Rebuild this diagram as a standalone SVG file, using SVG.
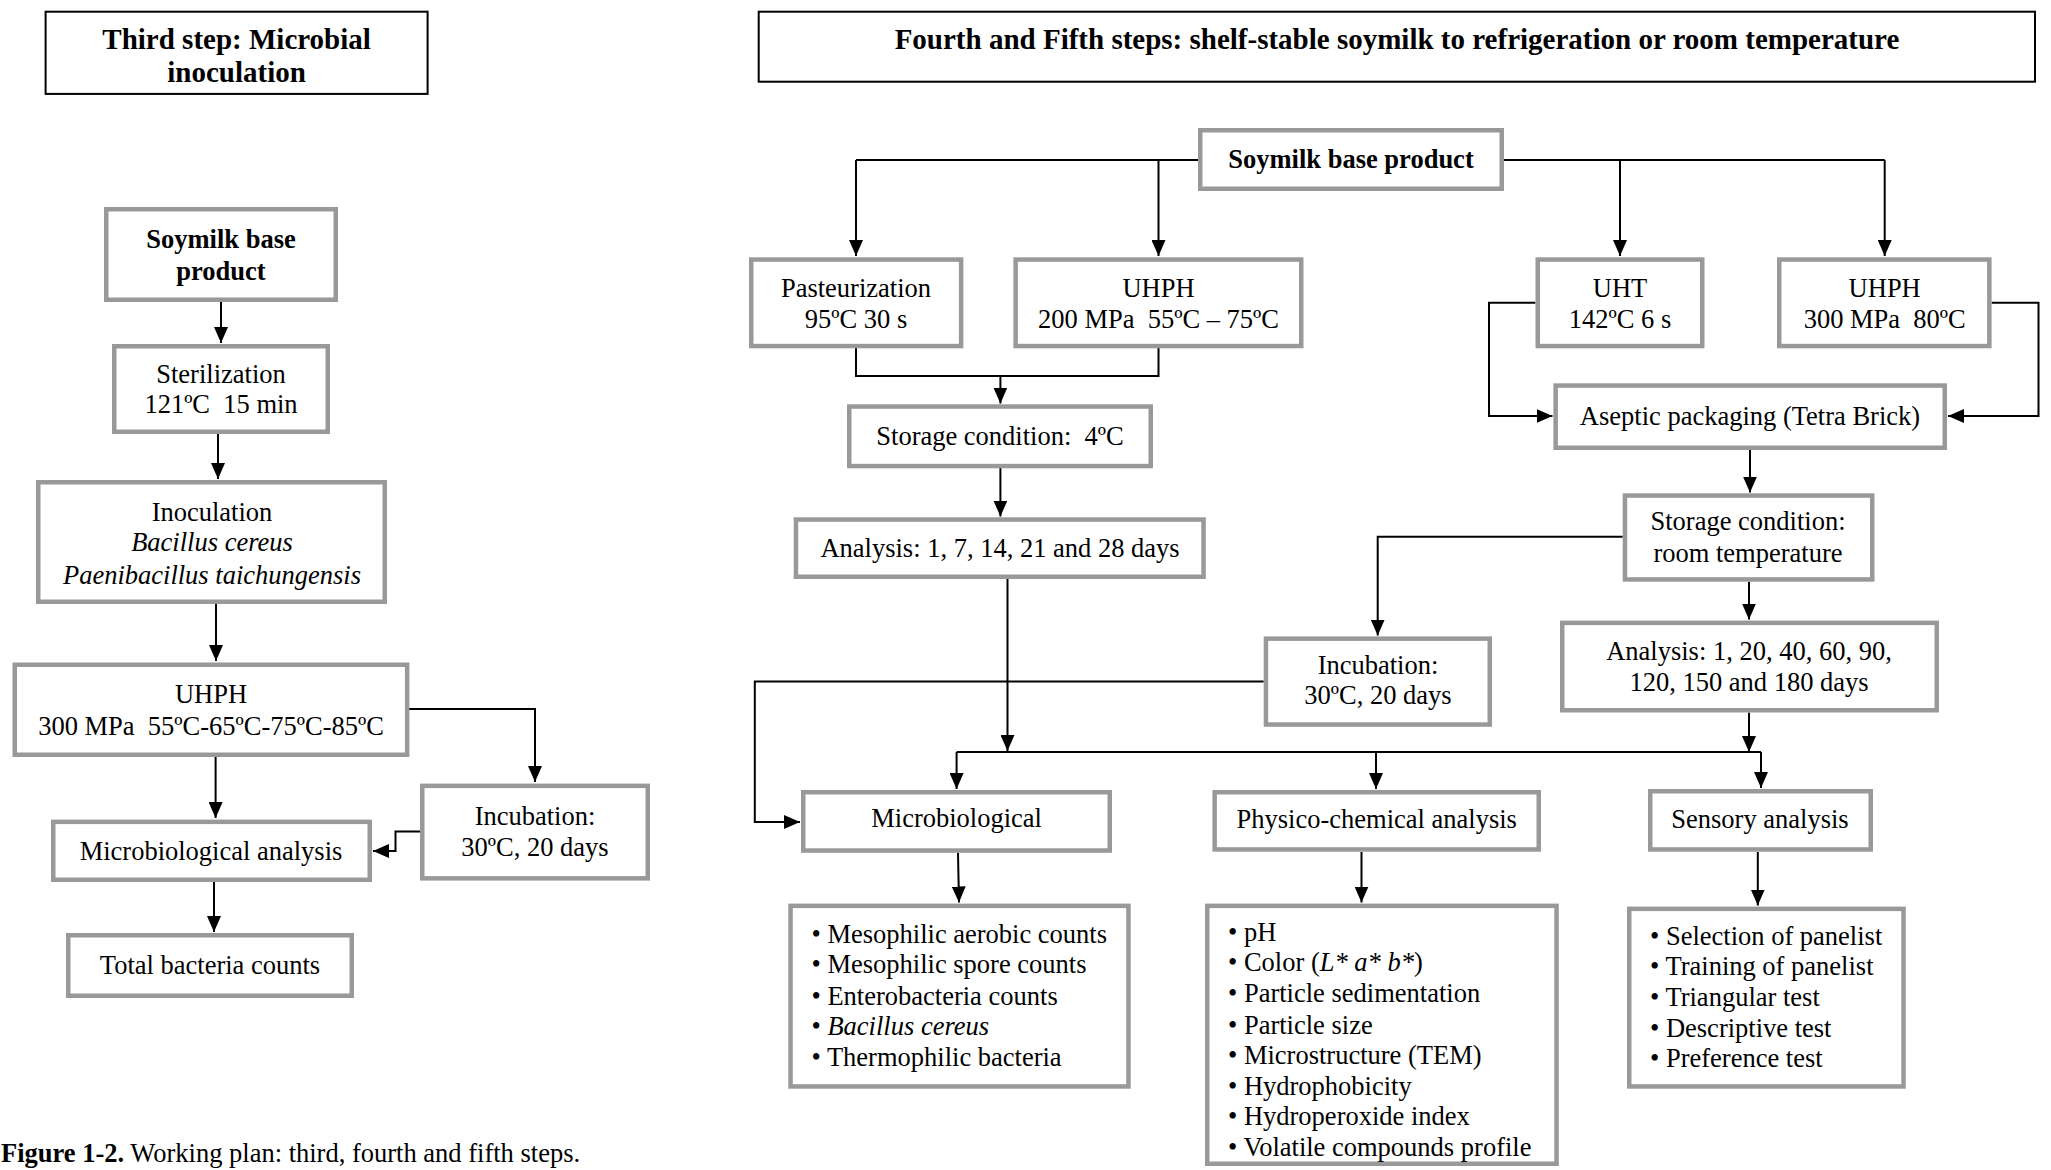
<svg xmlns="http://www.w3.org/2000/svg" width="2051" height="1170" viewBox="0 0 2051 1170">
<style>
.box{fill:#fff;stroke:#999;stroke-width:4.5}
.tbox{fill:#fff;stroke:#000;stroke-width:2}
text{font-family:"Liberation Serif","Times New Roman",serif;font-size:26.5px;fill:#000;text-anchor:middle}
.b{font-weight:bold}
.h{font-size:29px;font-weight:bold}
.l{text-anchor:start}
.i{font-style:italic}
.c{fill:none;stroke:#000;stroke-width:2}
.a{fill:none;stroke:#000;stroke-width:2;marker-end:url(#ah)}
</style>
<defs>
<marker id="ah" markerUnits="userSpaceOnUse" markerWidth="16" markerHeight="14" refX="16" refY="7" orient="auto" viewBox="0 0 16 14">
<path d="M0,0 L16,7 L0,14 z" fill="#000"/>
</marker>
</defs>
<rect width="2051" height="1170" fill="#fff"/>

<g id="connectors">
<line class="a" x1="221" y1="302" x2="221" y2="343"/>
<line class="a" x1="218" y1="434" x2="218" y2="479"/>
<line class="a" x1="216" y1="604" x2="216" y2="661"/>
<polyline class="a" points="409,709 535,709 535,782"/>
<line class="a" x1="215.6" y1="757" x2="215.6" y2="818"/>
<polyline class="a" points="420,831.5 395.5,831.5 395.5,851 373,851"/>
<line class="a" x1="214" y1="882" x2="214" y2="932"/>
<polyline class="c" points="1198,160 856,160"/>
<line class="a" x1="856" y1="160" x2="856" y2="256"/>
<line class="a" x1="1158.5" y1="160" x2="1158.5" y2="256"/>
<polyline class="c" points="1504,160 1884.7,160"/>
<line class="a" x1="1620" y1="160" x2="1620" y2="256"/>
<line class="a" x1="1884.7" y1="160" x2="1884.7" y2="256"/>
<polyline class="c" points="856,348 856,376 1158.5,376 1158.5,348"/>
<line class="a" x1="1000.4" y1="376" x2="1000.4" y2="403.5"/>
<line class="a" x1="1000.4" y1="468" x2="1000.4" y2="516.5"/>
<polyline class="a" points="1535.5,302.7 1489,302.7 1489,416 1552.5,416"/>
<polyline class="a" points="1991.6,302.7 2038.5,302.7 2038.5,416 1948,416"/>
<line class="a" x1="1750" y1="450" x2="1750" y2="492.5"/>
<polyline class="a" points="1622.7,536.7 1377.7,536.7 1377.7,635.5"/>
<line class="a" x1="1749" y1="581.7" x2="1749" y2="619.5"/>
<polyline class="a" points="1263.7,681.6 754.8,681.6 754.8,822 800,822"/>
<line class="a" x1="1007.5" y1="579" x2="1007.5" y2="751"/>
<line class="a" x1="1749" y1="712.5" x2="1749" y2="752"/>
<polyline class="c" points="956.6,752 1761,752"/>
<line class="a" x1="956.6" y1="752" x2="956.6" y2="789"/>
<line class="a" x1="1376" y1="752" x2="1376" y2="789"/>
<line class="a" x1="1761" y1="752" x2="1761" y2="788"/>
<line class="a" x1="958" y1="853" x2="959" y2="902.5"/>
<line class="a" x1="1361.5" y1="852" x2="1361.5" y2="902.5"/>
<line class="a" x1="1757.8" y1="852" x2="1757.8" y2="905.5"/>
</g>

<g id="title-third">
<rect class="tbox" x="45.6" y="11.7" width="382" height="82.2"/>
<text class="h" x="236.6" y="49">Third step: Microbial</text>
<text class="h" x="236.6" y="81.5">inoculation</text>
</g>
<g id="title-fourth">
<rect class="tbox" x="758.7" y="11.7" width="1276.3" height="70"/>
<text class="h" x="1397" y="49">Fourth and Fifth steps: shelf-stable soymilk to refrigeration or room temperature</text>
</g>

<g id="l-soymilk">
<rect class="box" x="106.25" y="209.25" width="229.5" height="90.5"/>
<text class="b" x="221" y="248">Soymilk base</text>
<text class="b" x="221" y="280">product</text>
</g>
<g id="l-sterilization">
<rect class="box" x="114.25" y="346.25" width="213.5" height="85.5"/>
<text x="221" y="383">Sterilization</text>
<text x="221" y="413" xml:space="preserve">121ºC  15 min</text>
</g>
<g id="l-inoculation">
<rect class="box" x="38.25" y="482.25" width="346.5" height="119.5"/>
<text x="212" y="520.5">Inoculation</text>
<text class="i" x="212" y="551">Bacillus cereus</text>
<text class="i" x="212" y="583.6">Paenibacillus taichungensis</text>
</g>
<g id="l-uhph">
<rect class="box" x="14.75" y="664.75" width="392.4" height="90"/>
<text x="211" y="703">UHPH</text>
<text x="211" y="734.5" xml:space="preserve">300 MPa  55ºC-65ºC-75ºC-85ºC</text>
</g>
<g id="l-incubation">
<rect class="box" x="422.25" y="785.85" width="225.5" height="92.5"/>
<text x="535" y="825">Incubation:</text>
<text x="535" y="856">30ºC, 20 days</text>
</g>
<g id="l-micro">
<rect class="box" x="53.25" y="821.85" width="316.5" height="57.9"/>
<text x="211" y="860">Microbiological analysis</text>
</g>
<g id="l-total">
<rect class="box" x="68.25" y="935.25" width="283.5" height="60.5"/>
<text x="210" y="974">Total bacteria counts</text>
</g>

<g id="r-soymilk">
<rect class="box" x="1200.25" y="130.25" width="301.5" height="58.5"/>
<text class="b" x="1351" y="168">Soymilk base product</text>
</g>
<g id="r-past">
<rect class="box" x="751.25" y="259.55" width="209.9" height="86.5"/>
<text x="856" y="296.7">Pasteurization</text>
<text x="856" y="327.7">95ºC 30 s</text>
</g>
<g id="r-uhph200">
<rect class="box" x="1015.65" y="259.55" width="285.6" height="86.5"/>
<text x="1158.5" y="296.7">UHPH</text>
<text x="1158.5" y="327.7" xml:space="preserve">200 MPa  55ºC – 75ºC</text>
</g>
<g id="r-uht">
<rect class="box" x="1537.75" y="259.55" width="164.5" height="86.5"/>
<text x="1620" y="296.7">UHT</text>
<text x="1620" y="327.7">142ºC 6 s</text>
</g>
<g id="r-uhph300">
<rect class="box" x="1779.25" y="259.55" width="210.1" height="86.5"/>
<text x="1884.7" y="296.7">UHPH</text>
<text x="1884.7" y="327.7" xml:space="preserve">300 MPa  80ºC</text>
</g>
<g id="r-storage4">
<rect class="box" x="849.25" y="406.55" width="301.5" height="59.5"/>
<text x="1000" y="445" xml:space="preserve">Storage condition:  4ºC</text>
</g>
<g id="r-analysis28">
<rect class="box" x="795.95" y="519.55" width="407.6" height="57.2"/>
<text x="1000" y="556.7">Analysis: 1, 7, 14, 21 and 28 days</text>
</g>
<g id="r-aseptic">
<rect class="box" x="1555.65" y="385.55" width="389.1" height="62.2"/>
<text x="1750" y="425">Aseptic packaging (Tetra Brick)</text>
</g>
<g id="r-storageroom">
<rect class="box" x="1624.95" y="495.55" width="247.3" height="83.9"/>
<text x="1748" y="530">Storage condition:</text>
<text x="1748" y="561.7">room temperature</text>
</g>
<g id="r-incubation">
<rect class="box" x="1265.95" y="638.65" width="223.8" height="85.9"/>
<text x="1378" y="674">Incubation:</text>
<text x="1378" y="704">30ºC, 20 days</text>
</g>
<g id="r-analysis180">
<rect class="box" x="1562.25" y="622.85" width="374.5" height="87.4"/>
<text x="1749" y="660">Analysis: 1, 20, 40, 60, 90,</text>
<text x="1749" y="691">120, 150 and 180 days</text>
</g>
<g id="r-micro">
<rect class="box" x="803.25" y="792.25" width="306.5" height="58.3"/>
<text x="956.6" y="826.5">Microbiological</text>
</g>
<g id="r-physico">
<rect class="box" x="1214.65" y="792.25" width="324.1" height="57.2"/>
<text x="1376.7" y="828">Physico-chemical analysis</text>
</g>
<g id="r-sensory">
<rect class="box" x="1650.25" y="791.25" width="220.5" height="58.2"/>
<text x="1760" y="828.4">Sensory analysis</text>
</g>
<g id="r-micro-list">
<rect class="box" x="790.55" y="905.85" width="337.9" height="180.6"/>
<text class="l" x="811.5" y="943">• Mesophilic aerobic counts</text>
<text class="l" x="811.5" y="973">• Mesophilic spore counts</text>
<text class="l" x="811.5" y="1004.5">• Enterobacteria counts</text>
<text class="l" x="811.5" y="1035.3">• <tspan class="i">Bacillus cereus</tspan></text>
<text class="l" x="811.5" y="1066">• Thermophilic bacteria</text>
</g>
<g id="r-physico-list">
<rect class="box" x="1207.25" y="905.85" width="349.3" height="257.9"/>
<text class="l" x="1228" y="941">• pH</text>
<text class="l" x="1228" y="971">• Color (<tspan class="i">L* a* b*</tspan>)</text>
<text class="l" x="1228" y="1002">• Particle sedimentation</text>
<text class="l" x="1228" y="1033.5">• Particle size</text>
<text class="l" x="1228" y="1064">• Microstructure (TEM)</text>
<text class="l" x="1228" y="1094.8">• Hydrophobicity</text>
<text class="l" x="1228" y="1125">• Hydroperoxide index</text>
<text class="l" x="1228" y="1155.7">• Volatile compounds profile</text>
</g>
<g id="r-sensory-list">
<rect class="box" x="1629.25" y="908.85" width="274.3" height="177.6"/>
<text class="l" x="1650" y="945">• Selection of panelist</text>
<text class="l" x="1650" y="975">• Training of panelist</text>
<text class="l" x="1650" y="1006.4">• Triangular test</text>
<text class="l" x="1650" y="1037">• Descriptive test</text>
<text class="l" x="1650" y="1067">• Preference test</text>
</g>

<text id="caption" class="l" x="1" y="1162"><tspan class="b">Figure 1-2.</tspan> Working plan: third, fourth and fifth steps.</text>
</svg>
